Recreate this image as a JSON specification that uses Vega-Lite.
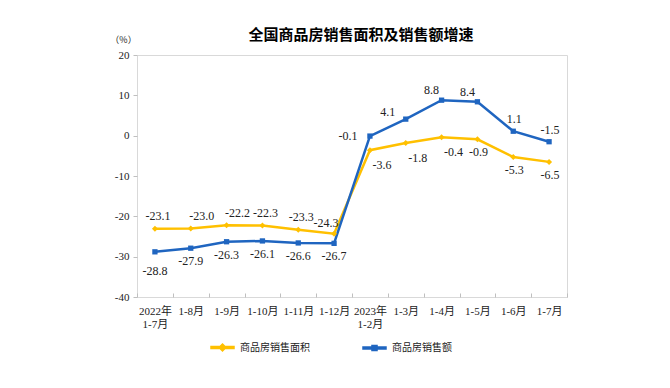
{
  "$schema": "https://vega.github.io/schema/vega-lite/v6.json",
  "width": 430,
  "height": 242,
  "autosize": {"type": "none"},
  "padding": {"left": 137, "top": 55, "right": 103, "bottom": 91},
  "background": "white",
  "title": {"text": "全国商品房销售面积及销售额增速", "fontSize": 15, "fontWeight": "bold", "font": "Noto Sans CJK SC", "color": "#000", "anchor": "middle", "dx": 9, "dy": 20, "offset": 12},
  "config": {
    "view": {"stroke": "#D9D9D9", "strokeWidth": 1},
    "locale": {"number": {"decimal": ".", "thousands": ",", "grouping": [3], "currency": ["", ""], "minus": "-"}},
    "text": {"font": "Liberation Serif", "fontSize": 12, "color": "#222"}
  },
  "data": {"values": [
    {"period": "2022年|1-7月", "year": 2022, "series": "商品房销售面积", "value": -23.1},
    {"period": "1-8月", "year": 2022, "series": "商品房销售面积", "value": -23.0},
    {"period": "1-9月", "year": 2022, "series": "商品房销售面积", "value": -22.2},
    {"period": "1-10月", "year": 2022, "series": "商品房销售面积", "value": -22.3},
    {"period": "1-11月", "year": 2022, "series": "商品房销售面积", "value": -23.3},
    {"period": "1-12月", "year": 2022, "series": "商品房销售面积", "value": -24.3},
    {"period": "2023年|1-2月", "year": 2023, "series": "商品房销售面积", "value": -3.6},
    {"period": "1-3月", "year": 2023, "series": "商品房销售面积", "value": -1.8},
    {"period": "1-4月", "year": 2023, "series": "商品房销售面积", "value": -0.4},
    {"period": "1-5月", "year": 2023, "series": "商品房销售面积", "value": -0.9},
    {"period": "1-6月", "year": 2023, "series": "商品房销售面积", "value": -5.3},
    {"period": "1-7月", "year": 2023, "series": "商品房销售面积", "value": -6.5},
    {"period": "2022年|1-7月", "year": 2022, "series": "商品房销售额", "value": -28.8},
    {"period": "1-8月", "year": 2022, "series": "商品房销售额", "value": -27.9},
    {"period": "1-9月", "year": 2022, "series": "商品房销售额", "value": -26.3},
    {"period": "1-10月", "year": 2022, "series": "商品房销售额", "value": -26.1},
    {"period": "1-11月", "year": 2022, "series": "商品房销售额", "value": -26.6},
    {"period": "1-12月", "year": 2022, "series": "商品房销售额", "value": -26.7},
    {"period": "2023年|1-2月", "year": 2023, "series": "商品房销售额", "value": -0.1},
    {"period": "1-3月", "year": 2023, "series": "商品房销售额", "value": 4.1},
    {"period": "1-4月", "year": 2023, "series": "商品房销售额", "value": 8.8},
    {"period": "1-5月", "year": 2023, "series": "商品房销售额", "value": 8.4},
    {"period": "1-6月", "year": 2023, "series": "商品房销售额", "value": 1.1},
    {"period": "1-7月", "year": 2023, "series": "商品房销售额", "value": -1.5}
  ]},
  "encoding": {
    "x": {
      "field": "period", "type": "nominal",
      "sort": ["2022年|1-7月", "1-8月", "1-9月", "1-10月", "1-11月", "1-12月", "2023年|1-2月", "1-3月", "1-4月", "1-5月", "1-6月", "1-7月"],
      "scale": {"type": "band", "paddingInner": 0, "paddingOuter": 0},
      "axis": {"title": null, "domain": false, "ticks": true, "tickBand": "extent", "tickSize": -4, "tickColor": "#BFBFBF", "labelAngle": 0, "labelFont": "Liberation Serif, Noto Sans CJK SC", "labelFontSize": 11, "labelColor": "#222", "labelPadding": 12, "labelExpr": "split(datum.label, '|')", "labelLineHeight": 13, "labelBaseline": "top"}
    },
    "y": {
      "field": "value", "type": "quantitative",
      "scale": {"domain": [-40, 20], "nice": false},
      "axis": {"title": "（%）", "titleAngle": 0, "titleX": -14, "titleY": -16, "titleAlign": "center", "titleBaseline": "middle", "titleFont": "Noto Sans CJK SC", "titleFontSize": 9, "titleFontWeight": "normal", "titleColor": "#222", "values": [-40, -30, -20, -10, 0, 10, 20], "domain": false, "grid": false, "tickSize": 4, "tickColor": "#BFBFBF", "labelFont": "Liberation Serif", "labelFontSize": 11, "labelColor": "#222", "labelPadding": 4}
    }
  },
  "layer": [
    {
      "mark": {"type": "point", "filled": true, "opacity": 0},
      "encoding": {
        "color": {"field": "series", "type": "nominal", "scale": {"domain": ["商品房销售面积", "商品房销售额"], "range": ["#FFC000", "#1F65C0"]}, "legend": {"title": null, "orient": "none", "legendX": 73, "legendY": 280, "direction": "horizontal", "padding": 0, "symbolSize": 529, "symbolOpacity": 1, "labelOffset": 5, "columnPadding": 50, "labelFont": "Noto Sans CJK SC", "labelFontSize": 10, "labelColor": "#222"}},
        "shape": {"field": "series", "type": "nominal", "scale": {"domain": ["商品房销售面积", "商品房销售额"], "range": ["M-1,-0.09H1V0.09H-1Z M0,-0.3L0.3,0L0,0.3L-0.3,0Z", "M-1,-0.09H1V0.09H-1Z M-0.22,-0.22H0.22V0.22H-0.22Z"]}, "legend": {"title": null, "orient": "none", "legendX": 73, "legendY": 280, "direction": "horizontal", "padding": 0, "symbolSize": 529, "symbolOpacity": 1, "labelOffset": 5, "columnPadding": 50, "labelFont": "Noto Sans CJK SC", "labelFontSize": 10, "labelColor": "#222"}}
      }
    },
    {
      "mark": {"type": "line", "strokeWidth": 2.5},
      "encoding": {"color": {"field": "series", "type": "nominal", "legend": null}}
    },
    {
      "transform": [{"filter": "datum.series == '商品房销售面积'"}],
      "mark": {"type": "point", "filled": true, "opacity": 1, "shape": "diamond", "size": 36},
      "encoding": {"color": {"field": "series", "type": "nominal", "legend": null}}
    },
    {
      "transform": [{"filter": "datum.series == '商品房销售额'"}],
      "mark": {"type": "point", "filled": true, "opacity": 1, "shape": "square", "size": 28},
      "encoding": {"color": {"field": "series", "type": "nominal", "legend": null}}
    },
    {
      "transform": [{"filter": "datum.series == '商品房销售面积' && indexof(['2022年|1-7月', '1-10月', '1-11月'], datum.period) >= 0"}],
      "mark": {"type": "text", "dx": 3, "dy": -13},
      "encoding": {"text": {"field": "value", "type": "quantitative", "format": ".1f"}}
    },
    {
      "transform": [{"filter": "datum.series == '商品房销售面积' && indexof(['1-8月', '1-9月'], datum.period) >= 0"}],
      "mark": {"type": "text", "dx": 11, "dy": -12},
      "encoding": {"text": {"field": "value", "type": "quantitative", "format": ".1f"}}
    },
    {
      "transform": [{"filter": "datum.series == '商品房销售面积' && datum.period == '1-12月'"}],
      "mark": {"type": "text", "dx": -8, "dy": -11},
      "encoding": {"text": {"field": "value", "type": "quantitative", "format": ".1f"}}
    },
    {
      "transform": [{"filter": "datum.series == '商品房销售面积' && indexof(['2023年|1-2月', '1-3月', '1-4月'], datum.period) >= 0"}],
      "mark": {"type": "text", "dx": 12, "dy": 15},
      "encoding": {"text": {"field": "value", "type": "quantitative", "format": ".1f"}}
    },
    {
      "transform": [{"filter": "datum.series == '商品房销售面积' && indexof(['1-5月', '1-6月', '1-7月'], datum.period) >= 0"}],
      "mark": {"type": "text", "dx": 1, "dy": 13},
      "encoding": {"text": {"field": "value", "type": "quantitative", "format": ".1f"}}
    },
    {
      "transform": [{"filter": "datum.series == '商品房销售额' && datum.period == '2022年|1-7月'"}],
      "mark": {"type": "text", "dy": 19},
      "encoding": {"text": {"field": "value", "type": "quantitative", "format": ".1f"}}
    },
    {
      "transform": [{"filter": "datum.series == '商品房销售额' && datum.year == 2022 && datum.period != '2022年|1-7月'"}],
      "mark": {"type": "text", "dy": 13},
      "encoding": {"text": {"field": "value", "type": "quantitative", "format": ".1f"}}
    },
    {
      "transform": [{"filter": "datum.series == '商品房销售额' && datum.period == '2023年|1-2月'"}],
      "mark": {"type": "text", "dx": -22, "dy": 0},
      "encoding": {"text": {"field": "value", "type": "quantitative", "format": ".1f"}}
    },
    {
      "transform": [{"filter": "datum.series == '商品房销售额' && datum.period == '1-3月'"}],
      "mark": {"type": "text", "dx": -18, "dy": -7},
      "encoding": {"text": {"field": "value", "type": "quantitative", "format": ".1f"}}
    },
    {
      "transform": [{"filter": "datum.series == '商品房销售额' && indexof(['1-4月', '1-5月'], datum.period) >= 0"}],
      "mark": {"type": "text", "dx": -10, "dy": -10},
      "encoding": {"text": {"field": "value", "type": "quantitative", "format": ".1f"}}
    },
    {
      "transform": [{"filter": "datum.series == '商品房销售额' && indexof(['1-6月', '1-7月'], datum.period) >= 0"}],
      "mark": {"type": "text", "dx": 1, "dy": -12},
      "encoding": {"text": {"field": "value", "type": "quantitative", "format": ".1f"}}
    }
  ]
}
